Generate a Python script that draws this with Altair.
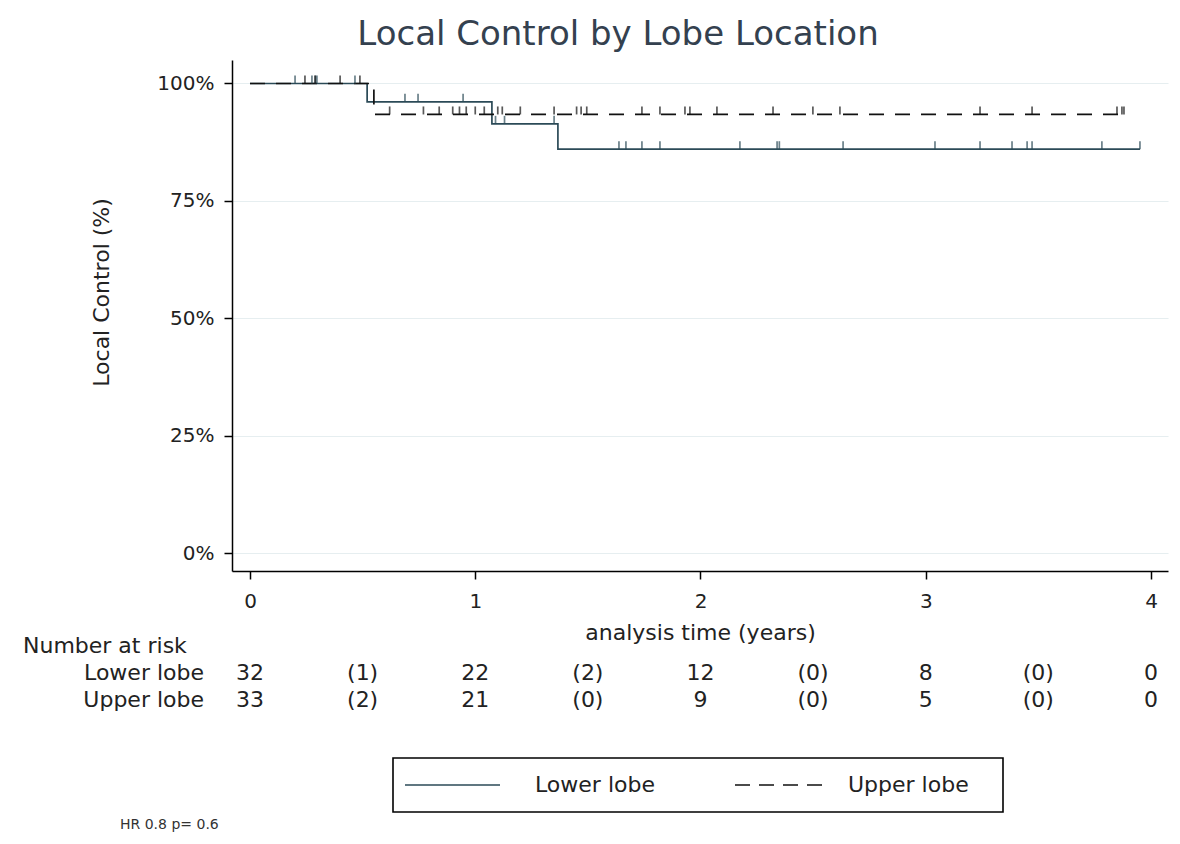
import altair as alt
import pandas as pd

# ---- Kaplan-Meier curves (time in years, local control in %) ----
lower_t = [0.0, 0.52, 1.074, 1.367, 3.951]
lower_s = [100.0, 96.1, 91.4, 86.0, 86.0]
upper_t = [0.0, 0.55, 3.88]
upper_s = [100.0, 93.4, 93.4]

# censoring times
lower_cens = [0.20, 0.275, 0.29, 0.297, 0.466, 0.688, 0.746, 0.946,
              1.09, 1.13, 1.35, 1.638, 1.669, 1.740, 1.820, 2.175, 2.340,
              2.350, 2.633, 3.041, 3.241, 3.383, 3.450, 3.472, 3.782, 3.951]
upper_cens = [0.244, 0.289, 0.40, 0.488, 0.62, 0.77, 0.84, 0.90, 0.93, 0.96,
              1.00, 1.04, 1.10, 1.12, 1.20, 1.35, 1.45, 1.47, 1.495, 1.740,
              1.820, 1.931, 1.953, 2.073, 2.322, 2.499, 2.619, 3.241, 3.472,
              3.849, 3.871, 3.88]

# number at risk table
risk_times = [0, 0.5, 1, 1.5, 2, 2.5, 3, 3.5, 4]
lower_risk = ["32", "(1)", "22", "(2)", "12", "(0)", "8", "(0)", "0"]
upper_risk = ["33", "(2)", "21", "(0)", "9", "(0)", "5", "(0)", "0"]

groups = ["Lower lobe", "Upper lobe"]
FONT = "DejaVu Sans"


def surv_at(ts, ss, c):
    v = ss[0]
    for t, s in zip(ts, ss):
        if t <= c:
            v = s
    return v


curve_rows = []
for g, ts, ss in [("Lower lobe", lower_t, lower_s), ("Upper lobe", upper_t, upper_s)]:
    for t, s in zip(ts, ss):
        curve_rows.append({"group": g, "t": t, "s": s})
curves = pd.DataFrame(curve_rows)

cens_rows = []
for g, ts, ss, cs in [("Lower lobe", lower_t, lower_s, lower_cens),
                      ("Upper lobe", upper_t, upper_s, upper_cens)]:
    for c in cs:
        cens_rows.append({"group": g, "t": c, "s": surv_at(ts, ss, c)})
cens = pd.DataFrame(cens_rows)

risk_lower = pd.DataFrame({"t": risk_times, "label": lower_risk})
risk_upper = pd.DataFrame({"t": risk_times, "label": upper_risk})
one = pd.DataFrame({"a": [0]})

x_scale = alt.Scale(domain=[-0.0799, 4.0755], nice=False, zero=False)
y_scale = alt.Scale(domain=[-3.83, 105.0], nice=False, zero=False)

x_enc = alt.X("t:Q", scale=x_scale, axis=alt.Axis(
    values=[0, 1, 2, 3, 4], format="d", title="analysis time (years)",
    tickSize=8, labelPadding=12, grid=False,
    titleY=61, titleBaseline="middle", titleFontWeight="normal"))
y_enc = alt.Y("s:Q", scale=y_scale, axis=alt.Axis(
    values=[0, 25, 50, 75, 100], labelExpr="datum.value + '%'",
    title="Local Control (%)", tickSize=8, labelPadding=10, grid=True,
    titleX=-131, titleY=232, titleAngle=270, titleAlign="center",
    titleBaseline="middle", titleFontWeight="normal"))

color_enc = alt.Color("group:N", scale=alt.Scale(domain=groups, range=["#2b4a57", "#111111"]), legend=None)
dash_enc = alt.StrokeDash("group:N", scale=alt.Scale(domain=groups, range=[[1, 0], [15, 11]]), legend=None)

lines = alt.Chart(curves).mark_line(interpolate="step-after", strokeWidth=1.7).encode(
    x=x_enc, y=y_enc, color=color_enc, strokeDash=dash_enc, detail="group:N")

ticks = alt.Chart(cens).mark_tick(orient="vertical", size=8, thickness=1.7, yOffset=-4).encode(
    x=x_enc, y=y_enc, color=color_enc)

title = alt.Chart(one).mark_text(text="Local Control by Lobe Location", font=FONT, fontSize=34,
                                 color="#34414f", align="center", baseline="middle").encode(
    x=alt.value(386), y=alt.value(-25))

TS = 22
nar = alt.Chart(one).mark_text(text="Number at risk", font=FONT, fontSize=TS, color="#222",
                               align="left", baseline="middle").encode(
    x=alt.value(-209), y=alt.value(586))
row_lower = alt.Chart(one).mark_text(text="Lower lobe", font=FONT, fontSize=TS, color="#222",
                                     align="right", baseline="middle").encode(
    x=alt.value(-28), y=alt.value(613))
row_upper = alt.Chart(one).mark_text(text="Upper lobe", font=FONT, fontSize=TS, color="#222",
                                     align="right", baseline="middle").encode(
    x=alt.value(-28), y=alt.value(640))
num_lower = alt.Chart(risk_lower).mark_text(font=FONT, fontSize=TS, color="#222",
                                            align="center", baseline="middle").encode(
    x=x_enc, y=alt.value(613), text="label:N")
num_upper = alt.Chart(risk_upper).mark_text(font=FONT, fontSize=TS, color="#222",
                                            align="center", baseline="middle").encode(
    x=x_enc, y=alt.value(640), text="label:N")

legend_box = alt.Chart(one).mark_rect(fill="white", stroke="black", strokeWidth=1.6).encode(
    x=alt.value(161), x2=alt.value(771), y=alt.value(698), y2=alt.value(752))
leg_solid = alt.Chart(one).mark_rule(color="#2b4a57", strokeWidth=1.7).encode(
    x=alt.value(173), x2=alt.value(268), y=alt.value(725))
leg_dash = alt.Chart(one).mark_rule(color="#111111", strokeWidth=1.7, strokeDash=[15, 9]).encode(
    x=alt.value(503), x2=alt.value(593), y=alt.value(725))
leg_t1 = alt.Chart(one).mark_text(text="Lower lobe", font=FONT, fontSize=22, color="#222",
                                  align="left", baseline="middle").encode(
    x=alt.value(303), y=alt.value(725))
leg_t2 = alt.Chart(one).mark_text(text="Upper lobe", font=FONT, fontSize=22, color="#222",
                                  align="left", baseline="middle").encode(
    x=alt.value(616), y=alt.value(725))

hr = alt.Chart(one).mark_text(text="HR 0.8 p= 0.6", font=FONT, fontSize=14, color="#333",
                              align="left", baseline="middle").encode(
    x=alt.value(-112), y=alt.value(765))

chart = alt.layer(
    lines, ticks, title, nar, row_lower, row_upper, num_lower, num_upper,
    legend_box, leg_solid, leg_dash, leg_t1, leg_t2, hr
).properties(
    width=936, height=511,
    autosize=alt.AutoSizeParams(type="none"),
    padding={"left": 224, "top": 52, "right": 4, "bottom": 265},
    background="white",
).configure_view(stroke=None).configure_axis(
    domainColor="black", domainWidth=1.5, tickColor="black", tickWidth=1.5,
    labelFont=FONT, labelFontSize=20, labelColor="#222",
    titleFont=FONT, titleFontSize=22, titleColor="#222",
    gridColor="#e6eef0", gridWidth=1.2,
)

chart.save("out.html", embed_options={"renderer": "svg", "actions": False})
